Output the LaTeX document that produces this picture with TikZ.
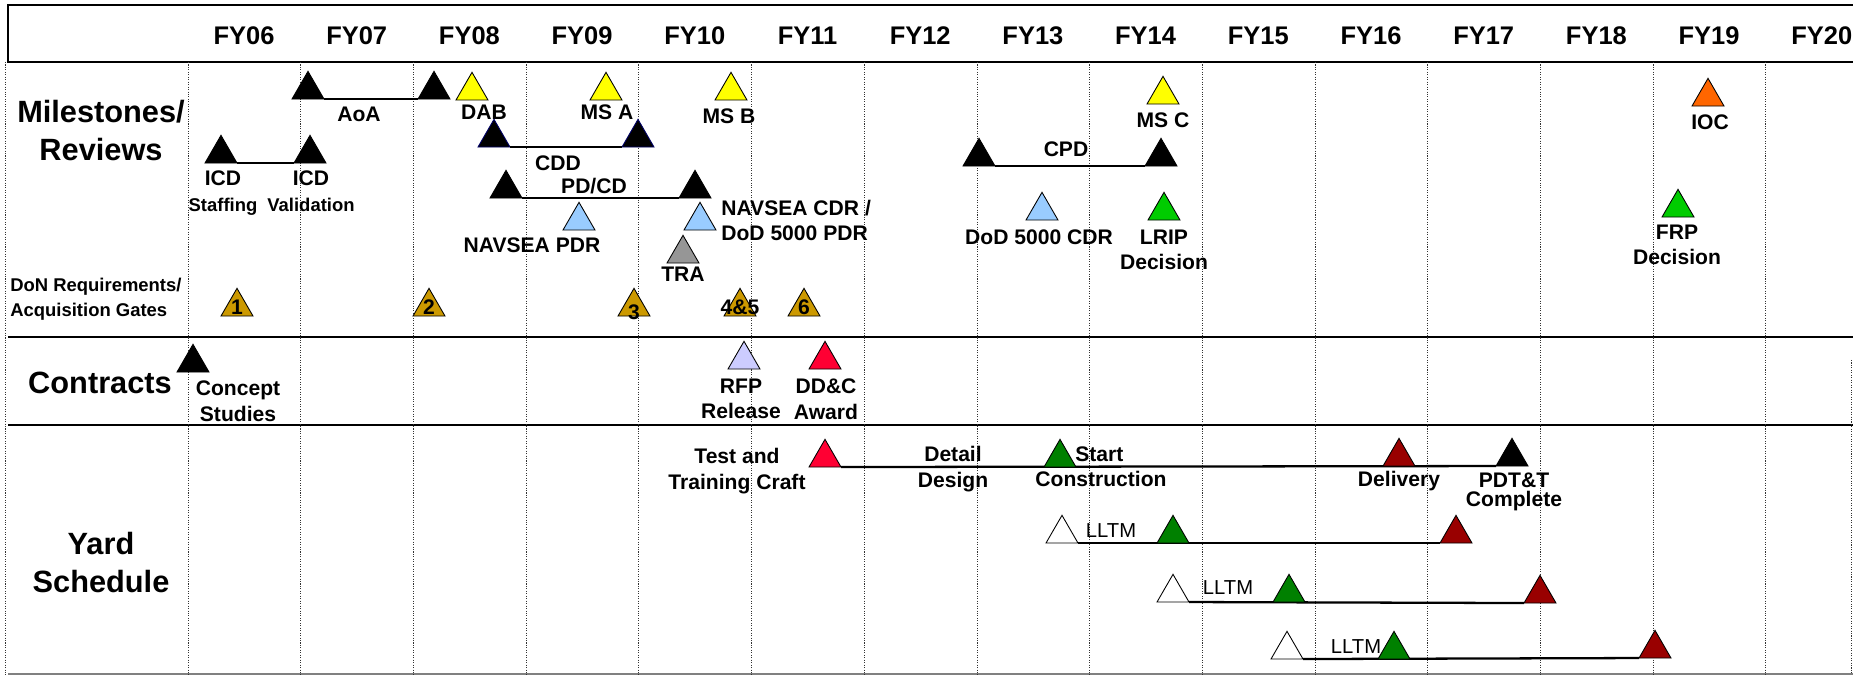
\documentclass[tikz,border=0pt]{standalone}
\usepackage{fontspec}
\setmainfont{Liberation Sans}
\usetikzlibrary{shapes.geometric}
\definecolor{msyellow}{HTML}{FFFF00}
\definecolor{msorange}{HTML}{FF6600}
\definecolor{mslblue}{HTML}{99CCFF}
\definecolor{msgray}{HTML}{969696}
\definecolor{msgreen}{HTML}{00CC00}
\definecolor{gategold}{HTML}{CC9900}
\definecolor{rfplav}{HTML}{CCCCFF}
\definecolor{ddcred}{HTML}{FF0033}
\definecolor{dkgreen}{HTML}{008000}
\definecolor{dkred}{HTML}{990000}
\definecolor{msnavy}{HTML}{000066}

\begin{document}
\begin{tikzpicture}[x=0.02cm, y=-0.02cm,
  ms/.style={regular polygon, regular polygon sides=3, draw=black, line width=0.5pt, inner sep=0pt, outer sep=0pt, minimum size=0.739cm},
  lbl/.style={font=\bfseries\fontsize{12}{14.4}\selectfont, align=center, inner sep=0pt, text depth=0pt},
  sublbl/.style={font=\bfseries\fontsize{10.5}{13}\selectfont, align=center, inner sep=0pt, text depth=0pt},
  lltm/.style={font=\fontsize{11.5}{14}\selectfont, inner sep=0pt, text depth=0pt},
  gnum/.style={font=\bfseries\fontsize{12}{14.4}\selectfont, inner sep=0pt, text depth=0pt},
  fy/.style={font=\bfseries\fontsize{14.5}{17}\selectfont, inner sep=0pt, text depth=0pt},
  sect/.style={font=\bfseries\fontsize{17.5}{21.5}\selectfont, align=center, inner sep=0pt, text depth=0pt},
  bar/.style={line width=1.3pt},
  frame/.style={line width=1.7pt},
  gridln/.style={line width=0.4pt, black!80, dash pattern=on 0.6pt off 0.8pt}]
\useasboundingbox (0,0) rectangle (1853,675);

% frame and year grid
\draw[frame] (1853,5) -- (8,5) -- (8,62) -- (1853,62);
\draw[frame] (8,337) -- (1853,337);
\draw[frame] (8,425) -- (1853,425);
\draw[gray, line width=0.9pt] (8,674) -- (1853,674);
\draw[gridln] (5,62) -- (5,675);
\draw[gridln] (1851,360) -- (1851,675);
\foreach \k in {0,...,14}
  \draw[gridln] (188+112.7*\k,62) -- (188+112.7*\k,675);
\foreach \yr [count=\k from 0] in {06,07,08,09,10,11,12,13,14,15,16,17,18,19,20}
  \node[fy] (fy\yr) at (244+112.7*\k,36) {FY\yr};

% section titles
\node[sect] (tmile) at (101,130.5) {Milestones/\\Reviews};
\node[font=\bfseries\fontsize{10.5}{14}\selectfont, align=left, inner sep=0pt, text depth=0pt, anchor=west] (tgate) at (10,297.5) {DoN Requirements/\\Acquisition Gates};
\node[sect] (tcont) at (100,383) {Contracts};
\node[sect] (tyard) at (101,562.5) {Yard\\Schedule};

% milestones / reviews
\node[ms, fill=black] (aoaA) at (308,89.8) {};
\node[ms, fill=black] (aoaB) at (434,89.8) {};
\draw[bar] (aoaA.corner 3) -- (aoaB.corner 2);
\node[lbl] (laoa) at (359,114) {AoA};
\node[ms, fill=msyellow] (dab) at (472,90.8) {};
\node[lbl] (ldab) at (484,112) {DAB};
\node[ms, fill=msyellow] (msa) at (606,90.8) {};
\node[lbl] (lmsa) at (607,112) {MS A};
\node[ms, fill=msyellow] (msb) at (731,90.8) {};
\node[lbl] (lmsb) at (729,116) {MS B};
\node[ms, fill=msyellow] (msc) at (1163,94.8) {};
\node[lbl] (lmsc) at (1163,120) {MS C};
\node[ms, fill=msorange] (ioc) at (1708,96.8) {};
\node[lbl] (lioc) at (1710,122) {IOC};

\node[ms, fill=black, draw=msnavy] (cddA) at (494,137.8) {};
\node[ms, fill=black, draw=msnavy] (cddB) at (638,137.8) {};
\draw[bar] (cddA.corner 3) -- (cddB.corner 2);
\node[lbl] (lcdd) at (558,163) {CDD};

\node[ms, fill=black] (icdA) at (221,153.8) {};
\node[ms, fill=black] (icdB) at (310,153.8) {};
\draw[bar] (icdA.corner 3) -- (icdB.corner 2);
\node[lbl] (licdA) at (223,191) {ICD\\{\fontsize{10.5}{13}\selectfont Staffing}};
\node[lbl] (licdB) at (311,191) {ICD\\{\fontsize{10.5}{13}\selectfont Validation}};

\node[ms, fill=black] (pdcdA) at (506,188.8) {};
\node[ms, fill=black] (pdcdB) at (695,188.8) {};
\draw[bar] (pdcdA.corner 3) -- (pdcdB.corner 2);
\node[lbl] (lpdcd) at (594,186) {PD/CD};

\node[ms, fill=mslblue] (npdr) at (579,220.8) {};
\node[lbl] (lnpdr) at (532,245) {NAVSEA PDR};
\node[ms, fill=mslblue] (ncdr) at (700,220.8) {};
\node[lbl, align=left, anchor=west] (lncdr) at (721,220.5) {NAVSEA CDR /\\DoD 5000 PDR};
\node[ms, fill=msgray] (tra) at (683,253.8) {};
\node[lbl] (ltra) at (683,274) {TRA};

\node[ms, fill=black] (cpdA) at (979,156.8) {};
\node[ms, fill=black] (cpdB) at (1161,156.8) {};
\draw[bar] (cpdA.corner 3) -- (cpdB.corner 2);
\node[lbl] (lcpd) at (1066,149) {CPD};
\node[ms, fill=mslblue] (dcdr) at (1042,210.8) {};
\node[lbl] (ldcdr) at (1039,237) {DoD 5000 CDR};
\node[ms, fill=msgreen] (lrip) at (1164,210.8) {};
\node[lbl] (llrip) at (1164,249.5) {LRIP\\Decision};
\node[ms, fill=msgreen] (frp) at (1678,207.8) {};
\node[lbl] (lfrp) at (1677,245) {FRP\\Decision};

% acquisition gates
\node[ms, fill=gategold, label={[gnum]center:1}] (g1) at (237,306.8) {};
\node[ms, fill=gategold, label={[gnum]center:2}] (g2) at (429,306.8) {};
\node[ms, fill=gategold, label={[gnum, yshift=-3pt]center:3}] (g3) at (634,306.8) {};
\node[ms, fill=gategold, label={[gnum]center:4\&5}] (g45) at (740,306.8) {};
\node[ms, fill=gategold, label={[gnum]center:6}] (g6) at (804,306.8) {};

% contracts
\node[ms, fill=black] (cstud) at (193,362.8) {};
\node[lbl] (lcstud) at (238,401) {Concept\\Studies};
\node[ms, fill=rfplav] (rfp) at (744,359.8) {};
\node[lbl] (lrfp) at (741,399) {RFP\\Release};
\node[ms, fill=ddcred] (ddc) at (825,359.8) {};
\node[lbl] (lddc) at (826,399) {DD\&C\\Award};

% yard schedule
\node[ms, fill=ddcred] (ttc) at (825,457.8) {};
\node[ms, fill=black] (pdtt) at (1512,456.8) {};
\draw[bar] (ttc.corner 3) -- (pdtt.corner 2);
\node[ms, fill=dkgreen] (stcon) at (1060,457.8) {};
\node[ms, fill=dkred] (dlv) at (1399,456.8) {};
\node[lbl] (lttc) at (737,469) {Test and\\Training Craft};
\node[lbl] (ldd) at (953,467) {Detail\\Design};
\node[lbl, anchor=west] (lstart) at (1075,454) {Start};
\node[lbl] (lcons) at (1101,479) {Construction};
\node[lbl] (ldlv) at (1399,479) {Delivery};
\node[lbl] (lpdtt) at (1514,490) {PDT\&T\\[-3.6pt]Complete};

\node[ms, fill=white] (l1a) at (1062,533.8) {};
\node[ms, fill=dkred] (l1c) at (1456,533.8) {};
\draw[bar] (l1a.corner 3) -- (l1c.corner 2);
\node[ms, fill=dkgreen] (l1b) at (1173,533.8) {};
\node[lltm] (ll1) at (1111,531) {LLTM};

\node[ms, fill=white] (l2a) at (1173,592.8) {};
\node[ms, fill=dkred] (l2c) at (1540,593.8) {};
\draw[bar] (l2a.corner 3) -- (l2c.corner 2);
\node[ms, fill=dkgreen] (l2b) at (1289,592.8) {};
\node[lltm] (ll2) at (1228,588) {LLTM};

\node[ms, fill=white] (l3a) at (1287,649.8) {};
\node[ms, fill=dkred] (l3c) at (1655,648.8) {};
\draw[bar] (l3a.corner 3) -- (l3c.corner 2);
\node[ms, fill=dkgreen] (l3b) at (1394,649.8) {};
\node[lltm] (ll3) at (1356,647) {LLTM};
\end{tikzpicture}
\end{document}
